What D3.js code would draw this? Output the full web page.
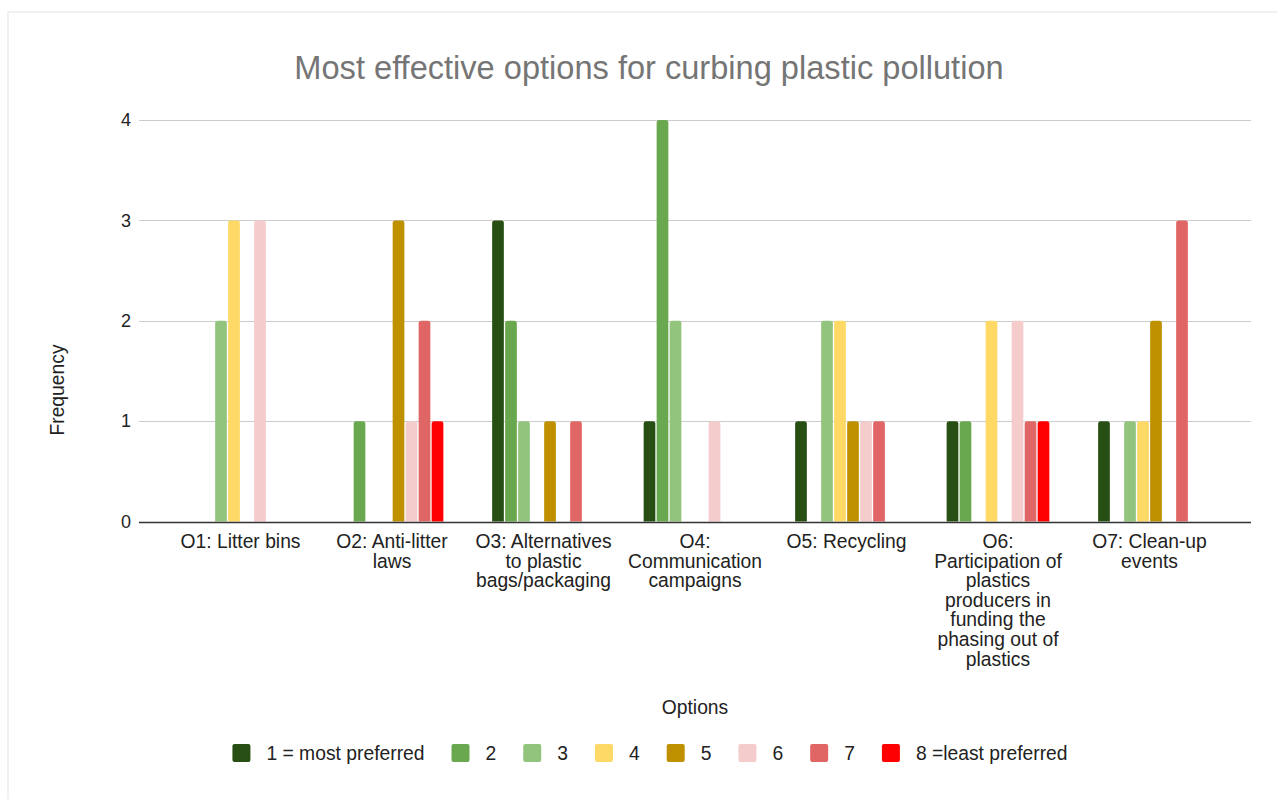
<!DOCTYPE html>
<html>
<head>
<meta charset="utf-8">
<script src="https://cdn.jsdelivr.net/npm/d3@7"></script>
<style>
  html, body { margin: 0; padding: 0; background: #fff; }
  svg { display: block; font-family: Arial, "Liberation Sans", sans-serif; }
</style>
</head>
<body>
<svg id="chart" width="1277" height="799"></svg>
<script>
// Survey options (category axis), wrapped into display lines
const categories = [
  "O1: Litter bins",
  "O2: Anti-litter laws",
  "O3: Alternatives to plastic bags/packaging",
  "O4: Communication campaigns",
  "O5: Recycling",
  "O6: Participation of plastics producers in funding the phasing out of plastics",
  "O7: Clean-up events"
];
const categoryLines = [
  ["O1: Litter bins"],
  ["O2: Anti-litter", "laws"],
  ["O3: Alternatives", "to plastic", "bags/packaging"],
  ["O4:", "Communication", "campaigns"],
  ["O5: Recycling"],
  ["O6:", "Participation of", "plastics", "producers in", "funding the", "phasing out of", "plastics"],
  ["O7: Clean-up", "events"]
];

// Preference ranks (series)
const seriesNames = ["1 = most preferred", "2", "3", "4", "5", "6", "7", "8 =least preferred"];
const seriesColors = ["#274e13", "#6aa84f", "#93c47d", "#ffd966", "#bf9000", "#f4cccc", "#e06666", "#ff0000"];

// Frequency of each rank per option, one array per option, ordered by rank 1..8
const o1 = [0, 0, 2, 3, 0, 3, 0, 0];
const o2 = [0, 1, 0, 0, 3, 1, 2, 1];
const o3 = [3, 2, 1, 0, 1, 0, 1, 0];
const o4 = [1, 4, 2, 0, 0, 1, 0, 0];
const o5 = [1, 0, 2, 2, 1, 1, 1, 0];
const o6 = [1, 1, 0, 2, 0, 2, 1, 1];
const o7 = [1, 0, 1, 1, 2, 0, 3, 0];
const values = [o1, o2, o3, o4, o5, o6, o7];

const yTicks = [0, 1, 2, 3, 4];

const svg = d3.select("#chart");
const W = 1277, H = 799;
const labelSize = 19.3;

svg.append("rect").attr("width", W).attr("height", H).attr("fill", "#fff");
// light frame
svg.append("rect")
  .attr("x", 8).attr("y", 12)
  .attr("width", W + 20).attr("height", H + 20)
  .attr("fill", "none").attr("stroke", "#f1f1f1").attr("stroke-width", 2);

const plot = { left: 139, right: 1251, top: 120, bottom: 521.5 };

const x0 = d3.scaleBand()
  .domain(categories)
  .range([plot.left, plot.right])
  .paddingInner(0)
  .paddingOuter(0.17);

const groupW = x0.step() * 0.678;
const x1 = d3.scaleBand()
  .domain(seriesNames)
  .range([(x0.bandwidth() - groupW) / 2, (x0.bandwidth() + groupW) / 2])
  .paddingInner(0.1);

const y = d3.scaleLinear().domain([0, 4]).range([plot.bottom, plot.top]);

// gridlines
svg.append("g").selectAll("line")
  .data(yTicks.filter(t => t !== 0))
  .join("line")
  .attr("x1", plot.left).attr("x2", plot.right)
  .attr("y1", d => Math.round(y(d)) + 0.5).attr("y2", d => Math.round(y(d)) + 0.5)
  .attr("stroke", "#cccccc").attr("stroke-width", 1);

// y tick labels
svg.append("g").selectAll("text")
  .data(yTicks)
  .join("text")
  .attr("x", 131)
  .attr("y", d => y(d))
  .attr("dy", "0.35em")
  .attr("text-anchor", "end")
  .attr("font-size", 18)
  .attr("fill", "#222")
  .text(d => d);

// bars with rounded tops
function barPath(x, yTop, w, yBase, r) {
  const h = yBase - yTop;
  if (h <= 0) return "";
  r = Math.min(r, w / 2, h);
  return `M${x},${yBase}V${yTop + r}Q${x},${yTop} ${x + r},${yTop}H${x + w - r}Q${x + w},${yTop} ${x + w},${yTop + r}V${yBase}Z`;
}

const groups = svg.append("g").selectAll("g")
  .data(categories)
  .join("g")
  .attr("transform", d => `translate(${x0(d)},0)`);

groups.selectAll("path")
  .data((d, i) => values[i].map((v, k) => ({ key: seriesNames[k], value: v, color: seriesColors[k] })))
  .join("path")
  .attr("d", d => barPath(x1(d.key), y(d.value), x1.bandwidth(), y(0), 2.5))
  .attr("fill", d => d.color);

// baseline
svg.append("line")
  .attr("x1", plot.left).attr("x2", plot.right)
  .attr("y1", Math.round(y(0)) + 0.5).attr("y2", Math.round(y(0)) + 0.5)
  .attr("stroke", "#333").attr("stroke-width", 1.3);

// category labels
const lineH = 19.6;
svg.append("g").selectAll("text")
  .data(categories)
  .join("text")
  .attr("x", d => x0(d) + x0.bandwidth() / 2)
  .attr("y", 548)
  .attr("text-anchor", "middle")
  .attr("font-size", labelSize)
  .attr("fill", "#222")
  .each(function (d, i) {
    d3.select(this).selectAll("tspan")
      .data(categoryLines[i])
      .join("tspan")
      .attr("x", x0(d) + x0.bandwidth() / 2)
      .attr("dy", (l, j) => j === 0 ? 0 : lineH)
      .text(l => l);
  });

// title
svg.append("text")
  .attr("x", 649).attr("y", 79)
  .attr("text-anchor", "middle")
  .attr("font-size", 32.6)
  .attr("fill", "#757575")
  .text("Most effective options for curbing plastic pollution");

// axis titles
svg.append("text")
  .attr("transform", "translate(64,390) rotate(-90)")
  .attr("text-anchor", "middle")
  .attr("font-size", labelSize)
  .attr("fill", "#222")
  .text("Frequency");

svg.append("text")
  .attr("x", (plot.left + plot.right) / 2).attr("y", 714)
  .attr("text-anchor", "middle")
  .attr("font-size", labelSize)
  .attr("fill", "#222")
  .text("Options");

// legend
const legend = svg.append("g");
const sw = 18, gapText = 16, gapItem = 27;
const items = legend.selectAll("g")
  .data(seriesNames)
  .join("g");
items.append("rect")
  .attr("width", sw).attr("height", sw).attr("rx", 2)
  .attr("y", 753 - sw / 2)
  .attr("fill", (d, i) => seriesColors[i]);
items.append("text")
  .attr("x", sw + gapText)
  .attr("y", 753).attr("dy", "0.35em")
  .attr("font-size", labelSize)
  .attr("fill", "#222")
  .text(d => d);
let cursor = 0;
const offsets = [];
items.each(function () {
  const tw = d3.select(this).select("text").node().getComputedTextLength();
  offsets.push(cursor);
  cursor += sw + gapText + tw + gapItem;
});
const totalW = cursor - gapItem;
const startX = 650 - totalW / 2;
items.attr("transform", (d, i) => `translate(${startX + offsets[i]},0)`);
</script>
</body>
</html>
